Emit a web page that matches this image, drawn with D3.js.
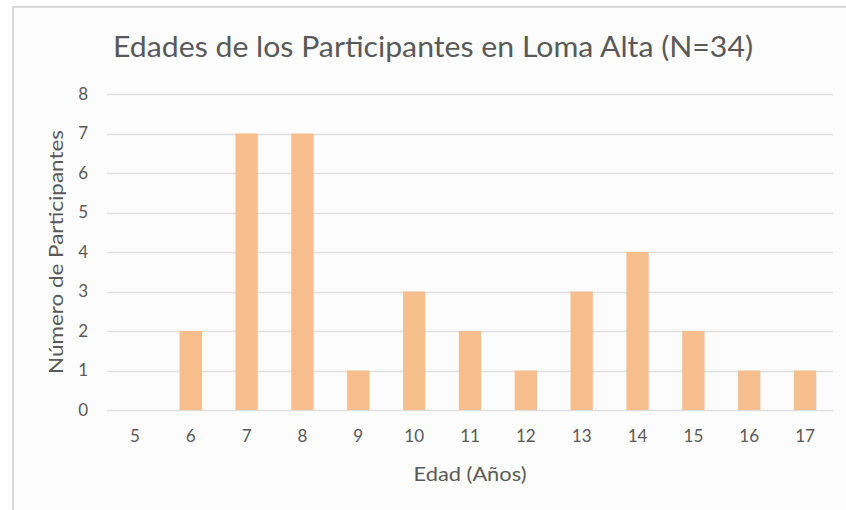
<!DOCTYPE html>
<html>
<head>
<meta charset="utf-8">
<script src="https://cdn.jsdelivr.net/npm/d3@7"></script>
<style>
  body { margin: 0; background: #fff; }
  text { font-family: Lato, "Open Sans", sans-serif; fill: #595959; }
</style>
</head>
<body>
<div id="chart"></div>
<script>
const ages = [5, 6, 7, 8, 9, 10, 11, 12, 13, 14, 15, 16, 17];
const counts = [0, 2, 7, 7, 1, 3, 2, 1, 3, 4, 2, 1, 1];
const yTicks = [0, 1, 2, 3, 4, 5, 6, 7, 8];

const width = 846;
const height = 510;
const margin = { top: 94, right: 13, bottom: 100, left: 107 };
const innerW = width - margin.left - margin.right;
const innerH = height - margin.top - margin.bottom;

const svg = d3.select("#chart")
  .append("svg")
  .attr("width", width)
  .attr("height", height);

// chart area with border
svg.append("rect")
  .attr("x", 13)
  .attr("y", 7)
  .attr("width", width + 10)
  .attr("height", height + 10)
  .attr("fill", "#fcfcfc")
  .attr("stroke", "#d9d9d9")
  .attr("stroke-width", 2);

const g = svg.append("g")
  .attr("transform", `translate(${margin.left},${margin.top})`);

const x = d3.scaleBand()
  .domain(ages)
  .range([0, innerW])
  .paddingInner(0.6)
  .paddingOuter(0.3);

const y = d3.scaleLinear()
  .domain([0, 8])
  .range([innerH, 0]);

// gridlines
g.selectAll("line.grid")
  .data(yTicks)
  .join("line")
  .attr("class", "grid")
  .attr("x1", 0)
  .attr("x2", innerW)
  .attr("y1", d => Math.round(y(d)) + 0.5)
  .attr("y2", d => Math.round(y(d)) + 0.5)
  .attr("stroke", "#dedede")
  .attr("stroke-width", 1.3);

// bars
g.selectAll("rect.bar")
  .data(ages.map((a, i) => ({ age: a, n: counts[i] })))
  .join("rect")
  .attr("class", "bar")
  .attr("x", d => x(d.age))
  .attr("width", x.bandwidth())
  .attr("y", d => y(d.n))
  .attr("height", d => innerH - y(d.n))
  .attr("fill", "#f7be8d");

// y axis labels
const yAxis = g.append("g")
  .call(d3.axisLeft(y).tickValues(yTicks).tickSize(0).tickPadding(19));
yAxis.select(".domain").remove();
yAxis.selectAll("text")
  .style("font-size", "17px")
  .style("fill", "#595959")
  .style("font-family", "Lato, sans-serif");

// x axis labels
const xAxis = g.append("g")
  .attr("transform", `translate(0,${innerH})`)
  .call(d3.axisBottom(x).tickSize(0).tickPadding(20));
xAxis.select(".domain").remove();
xAxis.selectAll("text")
  .style("font-size", "17px")
  .style("fill", "#595959")
  .style("font-family", "Lato, sans-serif");

// title
svg.append("text")
  .attr("x", 433)
  .attr("y", 57)
  .attr("text-anchor", "middle")
  .attr("textLength", 640)
  .attr("lengthAdjust", "spacingAndGlyphs")
  .style("font-size", "29px")
  .text("Edades de los Participantes en Loma Alta (N=34)");

// axis titles
svg.append("text")
  .attr("x", margin.left + innerW / 2)
  .attr("y", 481)
  .attr("text-anchor", "middle")
  .attr("textLength", 113)
  .attr("lengthAdjust", "spacingAndGlyphs")
  .style("font-size", "19px")
  .text("Edad (Años)");

svg.append("text")
  .attr("transform", `translate(63,${margin.top + innerH / 2}) rotate(-90)`)
  .attr("text-anchor", "middle")
  .attr("textLength", 244)
  .attr("lengthAdjust", "spacingAndGlyphs")
  .style("font-size", "19px")
  .text("Número de Participantes");
</script>
</body>
</html>
